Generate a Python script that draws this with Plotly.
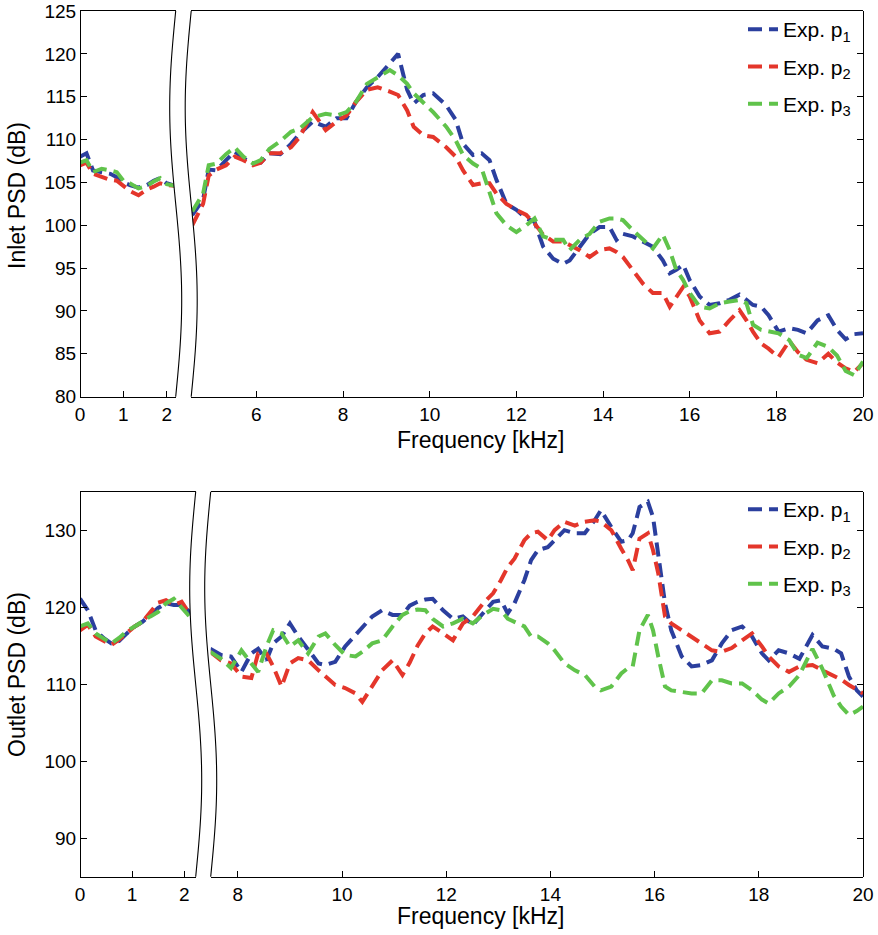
import numpy as np
import plotly.graph_objects as go

# ---------------- DATA ----------------
series_names = ["Exp. p<sub>1</sub>", "Exp. p<sub>2</sub>", "Exp. p<sub>3</sub>"]
series_colors = ["#2b3f9e", "#e4362b", "#60c34b"]

# Inlet (top panel), low-frequency segment
inlet_f_low = [0, 0.15, 0.3, 0.5, 0.7, 0.85, 1.0, 1.15, 1.35, 1.55, 1.7, 1.85, 2.0, 2.2]
inlet_p1_low = [108.0, 108.4, 106.4, 106.2, 106.0, 105.6, 105.0, 104.7, 104.4, 104.7, 105.2, 105.5, 104.9, 104.6]
inlet_p2_low = [107.0, 107.3, 106.0, 105.6, 105.3, 105.2, 104.6, 104.0, 103.5, 104.2, 104.5, 104.9, 104.7, 104.6]
inlet_p3_low = [107.3, 107.6, 106.2, 106.6, 106.4, 106.2, 105.2, 104.9, 104.3, 104.6, 105.1, 105.5, 104.8, 104.6]

# Inlet (top panel), high-frequency segment
inlet_f_high = [4.52, 4.77, 4.9, 5.08, 5.3, 5.5, 5.7, 5.92, 6.1, 6.3, 6.55, 6.8, 7.0, 7.3, 7.6, 7.85,
                8.08, 8.3, 8.55, 8.8, 9.08, 9.27, 9.48, 9.63, 9.85, 10.08, 10.38, 10.6, 10.77, 11.0,
                11.2, 11.38, 11.54, 11.77, 12.0, 12.23, 12.42, 12.62, 12.85, 13.08, 13.23, 13.46,
                13.69, 13.92, 14.15, 14.31, 14.46, 14.69, 14.92, 15.15, 15.38, 15.54, 15.69, 15.85,
                16.0, 16.23, 16.46, 16.69, 16.92, 17.15, 17.31, 17.46, 17.65, 17.82, 18.05, 18.3,
                18.5, 18.7, 18.95, 19.2, 19.4, 19.6, 19.8, 20.0]
inlet_p1_high = [101.2, 103.0, 106.5, 106.4, 107.6, 108.6, 107.8, 107.2, 107.3, 108.4, 108.3, 109.5,
                 110.7, 112.1, 111.5, 112.5, 112.5, 114.4, 116.1, 117.3, 118.9, 120.0, 115.8, 114.2,
                 115.2, 115.4, 114.0, 112.3, 109.5, 108.2, 108.4, 107.6, 105.3, 102.5, 101.8, 100.8,
                 100.4, 97.5, 96.1, 95.5, 95.9, 97.5, 99.0, 99.8, 99.8, 98.3, 99.0, 98.7, 98.1, 97.5,
                 95.9, 94.4, 94.8, 95.4, 93.6, 91.7, 90.7, 90.9, 91.3, 91.9, 91.3, 90.7, 90.5, 89.5,
                 87.6, 88.0, 87.8, 87.4, 88.9, 89.5, 87.8, 86.7, 87.3, 87.4]
inlet_p2_high = [100.0, 102.5, 105.8, 106.5, 107.0, 108.0, 107.6, 107.0, 107.3, 108.4, 108.4, 109.1,
                 110.3, 113.2, 111.1, 112.1, 112.8, 114.4, 115.8, 116.1, 115.6, 115.2, 113.4, 111.5,
                 110.5, 110.3, 109.1, 108.0, 106.4, 104.7, 104.9, 104.9, 103.7, 102.5, 101.8, 101.2,
                 100.2, 98.9, 98.1, 98.1, 97.7, 97.1, 96.3, 97.1, 97.3, 96.9, 96.3, 94.8, 93.2, 92.1,
                 92.1, 90.5, 91.7, 92.8, 91.7, 88.9, 87.4, 87.6, 88.9, 90.1, 88.9, 87.6, 86.2, 85.6,
                 84.6, 86.5, 85.2, 84.3, 83.9, 85.0, 84.0, 83.3, 82.9, 83.9]
inlet_p3_high = [101.6, 103.7, 107.0, 107.2, 108.3, 109.1, 108.0, 107.2, 107.6, 108.9, 109.8, 110.9,
                 111.3, 112.6, 113.0, 112.8, 113.2, 114.4, 116.5, 117.3, 118.1, 117.5, 116.5, 115.4,
                 114.4, 113.2, 111.5, 109.9, 108.2, 107.2, 106.6, 103.7, 101.4, 100.0, 99.2, 100.0,
                 100.8, 98.7, 98.3, 98.3, 97.1, 98.3, 99.0, 100.4, 100.8, 100.8, 100.6, 99.4, 98.3,
                 97.3, 98.9, 97.1, 94.8, 93.6, 92.1, 90.5, 90.3, 90.9, 91.1, 91.3, 90.9, 88.4, 87.8,
                 87.6, 87.4, 86.6, 84.9, 84.5, 86.3, 85.8, 84.8, 83.0, 82.5, 84.1]

# Outlet (bottom panel), low-frequency segment
outlet_f_low = [0, 0.15, 0.3, 0.45, 0.6, 0.75, 0.9, 1.05, 1.2, 1.35, 1.5, 1.65, 1.8, 1.95, 2.1, 2.22]
outlet_p1_low = [121.1, 119.6, 117.0, 116.0, 115.3, 115.6, 116.6, 117.5, 118.1, 119.0, 119.9, 120.5, 120.3, 120.3, 119.4, 119.0]
outlet_p2_low = [117.0, 117.7, 116.2, 115.7, 115.1, 115.8, 116.7, 117.5, 118.1, 119.4, 120.6, 120.9, 120.3, 120.7, 119.2, 118.5]
outlet_p3_low = [117.5, 117.9, 116.6, 116.0, 115.3, 116.0, 116.9, 117.5, 118.2, 118.8, 119.4, 120.5, 121.1, 120.0, 118.8, 118.3]

# Outlet (bottom panel), high-frequency segment
outlet_f_high = [7.47, 7.68, 7.87, 8.07, 8.26, 8.39, 8.55, 8.68, 8.84, 9.0, 9.16, 9.35, 9.55, 9.68,
                 9.87, 10.06, 10.26, 10.39, 10.58, 10.77, 10.97, 11.16, 11.3, 11.45, 11.6, 11.74,
                 11.94, 12.13, 12.32, 12.51, 12.71, 12.9, 13.05, 13.18, 13.31, 13.5, 13.63, 13.76,
                 13.95, 14.08, 14.27, 14.47, 14.66, 14.85, 14.97, 15.17, 15.36, 15.49, 15.58, 15.71,
                 15.87, 15.97, 16.07, 16.2, 16.32, 16.52, 16.71, 16.9, 17.1, 17.29, 17.48, 17.68,
                 17.87, 18.06, 18.19, 18.38, 18.58, 18.78, 19.03, 19.22, 19.44, 19.58, 19.73, 19.88, 20.0]
outlet_p1_high = [114.6, 113.8, 113.6, 111.6, 114.0, 114.6, 113.1, 115.3, 116.2, 117.9, 116.2, 114.4,
                  112.7, 112.5, 112.9, 114.9, 116.4, 117.5, 118.8, 119.6, 119.0, 119.0, 120.2, 120.7,
                  121.0, 121.1, 119.6, 118.5, 118.8, 117.7, 119.2, 120.7, 120.9, 119.2, 120.5, 123.5,
                  126.1, 127.4, 127.8, 128.7, 130.0, 129.6, 129.6, 131.3, 132.6, 130.4, 128.5, 128.7,
                  129.6, 133.0, 133.7, 131.7, 126.5, 120.5, 117.0, 113.6, 112.3, 112.5, 113.1, 115.3,
                  117.0, 117.5, 116.2, 114.0, 113.1, 114.4, 114.0, 113.3, 116.4, 114.9, 114.6, 114.0,
                  111.0, 109.2, 108.4]
outlet_p2_high = [114.2, 113.1, 112.7, 111.0, 110.8, 114.0, 114.0, 112.3, 109.7, 112.7, 113.4, 113.1,
                  111.8, 111.0, 109.9, 109.5, 108.8, 107.7, 109.7, 111.8, 113.1, 111.2, 112.8, 115.0,
                  116.6, 117.5, 116.6, 115.7, 117.9, 118.8, 120.5, 121.8, 123.5, 125.2, 126.3, 128.7,
                  129.6, 129.8, 128.7, 130.0, 131.1, 130.6, 131.1, 131.3, 131.1, 130.0, 127.6, 126.1,
                  124.8, 128.9, 129.6, 127.4, 124.4, 118.8, 117.9, 117.0, 116.2, 115.3, 114.4, 114.2,
                  114.7, 115.7, 116.6, 114.9, 113.6, 112.3, 111.6, 112.3, 112.5, 111.8, 111.0, 110.6,
                  109.9, 109.3, 108.8]
outlet_p3_high = [114.2, 113.3, 112.1, 114.4, 112.7, 111.6, 114.9, 117.0, 116.6, 114.9, 115.7, 114.0,
                  116.2, 116.6, 115.1, 113.8, 113.6, 114.2, 115.3, 115.7, 117.5, 119.0, 119.5, 119.7,
                  119.6, 118.5, 117.5, 117.9, 118.5, 117.9, 119.0, 119.8, 119.6, 118.5, 118.1, 117.5,
                  116.2, 116.2, 115.3, 114.4, 112.7, 111.8, 111.2, 109.7, 109.2, 109.7, 111.4, 112.1,
                  112.3, 117.0, 119.0, 117.0, 113.6, 109.7, 109.2, 109.0, 108.8, 108.8, 110.5, 110.5,
                  110.1, 110.1, 109.2, 108.0, 107.5, 108.8, 109.7, 111.2, 114.6, 112.0, 108.5, 107.1,
                  106.0, 106.5, 107.1]

inlet_yticks = [80, 85, 90, 95, 100, 105, 110, 115, 120, 125]
outlet_yticks = [90, 100, 110, 120, 130]
inlet_xticks_low = [0, 1, 2]
inlet_xticks_high = [6, 8, 10, 12, 14, 16, 18, 20]
outlet_xticks_low = [0, 1, 2]
outlet_xticks_high = [8, 10, 12, 14, 16, 18, 20]

# ---------------- LAYOUT GEOMETRY ----------------
W, H = 878, 935
ML, MR, MT, MB = 80, 15, 11, 58
PW = W - ML - MR
PH = H - MT - MB


def fx(p):
    return (p - ML) / PW


def fy(p):
    return 1 - (p - MT) / PH


FONT = "Liberation Sans, Arial, Helvetica, sans-serif"
DASH = "14px,7px"

top_y0, top_y1 = 396.7, 11.0
bot_y0, bot_y1 = 876.7, 491.7
top_brk = (175.7, 191.2)
bot_brk = (195.7, 210.7)
top_scale = 43.33   # px per kHz
bot_scale = 52.1

fig = go.Figure()

panels = [
    dict(f_low=inlet_f_low, f_high=inlet_f_high,
         low=[inlet_p1_low, inlet_p2_low, inlet_p3_low],
         high=[inlet_p1_high, inlet_p2_high, inlet_p3_high],
         xl="x", xh="x2", y="y", legend="legend"),
    dict(f_low=outlet_f_low, f_high=outlet_f_high,
         low=[outlet_p1_low, outlet_p2_low, outlet_p3_low],
         high=[outlet_p1_high, outlet_p2_high, outlet_p3_high],
         xl="x4", xh="x5", y="y2", legend="legend2"),
]

for pi, P in enumerate(panels):
    for i in range(3):
        fig.add_trace(go.Scatter(
            x=P["f_low"], y=P["low"][i], xaxis=P["xl"], yaxis=P["y"], mode="lines",
            line=dict(color=series_colors[i], width=4, dash=DASH),
            showlegend=False, legendgroup=f"g{pi}{i}", legend=P["legend"], hoverinfo="skip"))
        fig.add_trace(go.Scatter(
            x=P["f_high"], y=P["high"][i], xaxis=P["xh"], yaxis=P["y"], mode="lines",
            line=dict(color=series_colors[i], width=4, dash=DASH),
            name=series_names[i], showlegend=True, legendgroup=f"g{pi}{i}",
            legend=P["legend"], hoverinfo="skip"))

axis_common = dict(showline=True, linecolor="black", linewidth=1.2, ticks="inside",
                   ticklen=6, tickcolor="black", tickwidth=1, showgrid=False, zeroline=False,
                   tickfont=dict(family=FONT, size=19, color="black"), fixedrange=True,
                   automargin=False)

top_dom = [fy(top_y0), 1.0]
bot_dom = [fy(bot_y0), fy(bot_y1)]

tl_end = fx(top_brk[0])
tr_start = fx(top_brk[1])
bl_end = fx(bot_brk[0])
br_start = fx(bot_brk[1])

fig.update_layout(
    width=W, height=H, margin=dict(l=ML, r=MR, t=MT, b=MB, autoexpand=False),
    paper_bgcolor="white", plot_bgcolor="white",
    font=dict(family=FONT, size=19, color="black"),
    xaxis=dict(domain=[0, tl_end], range=[0, (top_brk[0] - ML) / top_scale], anchor="y",
               tickvals=inlet_xticks_low, mirror=True, **axis_common),
    xaxis2=dict(domain=[tr_start, 1], range=[20 - (W - MR - top_brk[1]) / top_scale, 20], anchor="y",
                tickvals=inlet_xticks_high, mirror=True, **axis_common),
    yaxis=dict(domain=top_dom, range=[80, 125], anchor="free", position=0, side="left",
               tickvals=inlet_yticks, **axis_common),
    yaxis3=dict(range=[80, 125], overlaying="y", anchor="free", position=1, side="right",
                tickvals=inlet_yticks, showticklabels=False, **axis_common),
    xaxis4=dict(domain=[0, bl_end], range=[0, (bot_brk[0] - ML) / bot_scale], anchor="y2",
                tickvals=outlet_xticks_low, mirror=True, **axis_common),
    xaxis5=dict(domain=[br_start, 1], range=[20 - (W - MR - bot_brk[1]) / bot_scale, 20], anchor="y2",
                tickvals=outlet_xticks_high, mirror=True, **axis_common),
    yaxis2=dict(domain=bot_dom, range=[85, 135], anchor="free", position=0, side="left",
                tickvals=outlet_yticks, **axis_common),
    yaxis4=dict(range=[85, 135], overlaying="y2", anchor="free", position=1, side="right",
                tickvals=outlet_yticks, showticklabels=False, **axis_common),
    legend=dict(x=fx(743), y=fy(9), xanchor="left", yanchor="top",
                bgcolor="rgba(0,0,0,0)", borderwidth=0, tracegroupgap=7,
                font=dict(family=FONT, size=21, color="black")),
    legend2=dict(x=fx(743), y=fy(489), xanchor="left", yanchor="top",
                 bgcolor="rgba(0,0,0,0)", borderwidth=0, tracegroupgap=7,
                 font=dict(family=FONT, size=21, color="black")),
    showlegend=True,
)

# invisible traces so the right-hand mirror axes are rendered
fig.add_trace(go.Scatter(x=[], y=[], xaxis="x2", yaxis="y3", showlegend=False, hoverinfo="skip"))
fig.add_trace(go.Scatter(x=[], y=[], xaxis="x5", yaxis="y4", showlegend=False, hoverinfo="skip"))

# axis titles
for txt, xx, yy, ang in [
    ("Frequency [kHz]", fx(480), fy(440), 0),
    ("Frequency [kHz]", fx(480), fy(916), 0),
    ("Inlet PSD (dB)", fx(17), fy(196), -90),
    ("Outlet PSD (dB)", fx(17), fy(675), -90),
]:
    fig.add_annotation(text=txt, x=xx, y=yy, xref="paper", yref="paper", showarrow=False,
                       textangle=ang, xanchor="center", yanchor="middle",
                       font=dict(family=FONT, size=23, color="black"))


# axis-break symbols (wavy double line with white band)
def wave(x_px, y_top, y_bot, amp, n=60):
    t = np.linspace(0, 1, n)
    xs = x_px - amp * np.sin(2 * np.pi * t)
    ys = y_top + (y_bot - y_top) * t
    return [(fx(a), fy(b)) for a, b in zip(xs, ys)]


def pts_to_path(pts, close=False):
    s = "M " + " L ".join(f"{a:.5f},{b:.5f}" for a, b in pts)
    return s + (" Z" if close else "")


for (xl, xr), (yt, yb) in [(top_brk, (top_y1, top_y0)), (bot_brk, (bot_y1, bot_y0))]:
    left = wave(xl, yt, yb, 6.0)
    right = wave(xr, yt, yb, 6.0)
    band = left + right[::-1]
    fig.add_shape(type="path", path=pts_to_path(band, close=True), xref="paper", yref="paper",
                  fillcolor="white", line=dict(width=0), layer="above")
    for curve in (left, right):
        fig.add_shape(type="path", path=pts_to_path(curve), xref="paper", yref="paper",
                      line=dict(color="black", width=1.1), layer="above")

fig.write_html("out.html")
